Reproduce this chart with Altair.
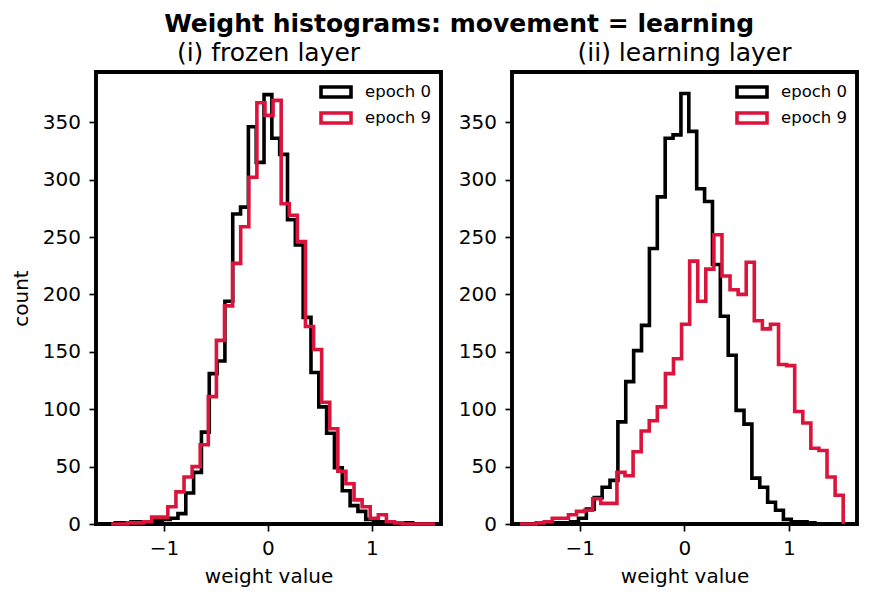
import altair as alt
import numpy as np
import pandas as pd

# ---------------- data ----------------
series_names = ["epoch 0", "epoch 9"]
series_colors = ["#000000", "#DC143C"]
panel_titles = ["(i) frozen layer", "(ii) learning layer"]
main_title = "Weight histograms: movement = learning"

# (i) frozen layer
frozen_e0_start, frozen_e0_width = -1.544, 0.0753
frozen_e0_counts = [0, 1, 1, 2, 2, 1, 3, 4, 5, 9,
                    27, 45, 80, 131, 142, 194, 270, 276, 346, 315,
                    374, 336, 322, 265, 243, 180, 132, 102, 79, 49,
                    29, 16, 11, 4, 2, 2, 1, 1, 1, 0]
frozen_e9_start, frozen_e9_width = -1.509, 0.0779
frozen_e9_counts = [0, 0, 1, 1, 2, 6, 6, 15, 28, 41,
                    50, 69, 111, 160, 190, 227, 259, 302, 367, 356,
                    369, 279, 269, 246, 172, 152, 106, 83, 46, 35,
                    21, 15, 5, 8, 2, 1, 0, 0, 0, 0]

# (ii) learning layer
learning_e0_start, learning_e0_width = -1.538, 0.0753
learning_e0_counts = [0, 0, 0, 1, 1, 1, 2, 5, 13, 23,
                      32, 38, 89, 124, 151, 173, 240, 285, 336, 339,
                      375, 342, 292, 281, 226, 181, 147, 99, 87, 40,
                      32, 19, 12, 4, 2, 2, 1, 0, 0, 0]
learning_e9_start, learning_e9_width = -1.570, 0.0772
learning_e9_counts = [0, 0, 1, 2, 5, 5, 8, 11, 12, 22,
                      18, 18, 45, 42, 63, 81, 90, 102, 131, 144,
                      174, 229, 194, 222, 252, 216, 204, 200, 228, 177,
                      170, 174, 139, 138, 98, 88, 66, 64, 41, 25]

x_ticks = [-1, 0, 1]
y_ticks = [0, 50, 100, 150, 200, 250, 300, 350]


def step_outline(name, start, width, counts):
    """Outline of a histogram (like histtype='step') from its bins."""
    edges = start + width * np.arange(len(counts) + 1)
    xs = [edges[0]] + list(edges[:-1]) + [edges[-1], edges[-1]]
    ys = [0] + list(counts) + [counts[-1], 0]
    return pd.DataFrame({"series": name, "x": xs, "count": ys,
                         "order": np.arange(len(xs))})


frozen_df = pd.concat([
    step_outline(series_names[0], frozen_e0_start, frozen_e0_width, frozen_e0_counts),
    step_outline(series_names[1], frozen_e9_start, frozen_e9_width, frozen_e9_counts),
])
learning_df = pd.concat([
    step_outline(series_names[0], learning_e0_start, learning_e0_width, learning_e0_counts),
    step_outline(series_names[1], learning_e9_start, learning_e9_width, learning_e9_counts),
])

FONT = "DejaVu Sans"
PLOT_W, PLOT_H = 345, 452
Y_MAX = 393.75
LINE_W = 3.6


def panel(df, title, xdomain, ytitle):
    legend = alt.Legend(
        title=None, orient="none", legendX=228, legendY=8,
        symbolType="M-1.5,-0.5H1.5V0.5H-1.5Z", symbolSize=400,
        symbolStrokeWidth=LINE_W, symbolFillColor="white",
        labelFont=FONT, labelFontSize=16.5, labelColor="black",
        labelOffset=17, rowPadding=0, padding=0,
    )
    yaxis_kwargs = dict(values=y_ticks)
    yaxis_kwargs["title"] = ytitle if ytitle else None
    return (
        alt.Chart(df)
        .mark_line(interpolate="step-after", strokeWidth=LINE_W, strokeJoin="miter")
        .encode(
            x=alt.X("x:Q", title="weight value",
                    scale=alt.Scale(domain=xdomain, nice=False, zero=False),
                    axis=alt.Axis(values=x_ticks, format="d")),
            y=alt.Y("count:Q",
                    scale=alt.Scale(domain=[0, Y_MAX], nice=False),
                    axis=alt.Axis(**yaxis_kwargs)),
            color=alt.Color("series:N",
                            scale=alt.Scale(domain=series_names, range=series_colors),
                            legend=legend),
            order=alt.Order("order:Q"),
        )
        .properties(
            width=PLOT_W, height=PLOT_H,
            title=alt.TitleParams(title, font=FONT, fontSize=25, fontWeight="normal",
                                  anchor="middle", offset=6, color="black"),
        )
    )


left = panel(frozen_df, panel_titles[0], [-1.655, 1.665], "count")
right = panel(learning_df, panel_titles[1], [-1.646, 1.650], None)

chart = (
    alt.hconcat(left, right, spacing=11)
    .resolve_scale(x="independent", y="independent", color="independent")
    .resolve_legend(color="independent")
    .properties(
        title=alt.TitleParams(main_title, font=FONT, fontSize=25, fontWeight="bold",
                              anchor="middle", color="black", offset=2, dx=25),
        padding={"left": 9, "top": 12, "right": 5, "bottom": 5},
        background="white",
    )
    .configure_view(stroke="black", strokeWidth=3.9)
    .configure_axis(
        labelFont=FONT, labelFontSize=20, labelColor="black",
        titleFont=FONT, titleFontSize=20, titleFontWeight="normal", titleColor="black",
        tickColor="black", tickWidth=1.7, tickSize=7, labelPadding=8.5,
        domain=False, grid=False,
    )
    .configure_axisLeft(titlePadding=11)
    .configure_axisBottom(titlePadding=8, labelPadding=7)
)

chart.save("out.html", embed_options={"renderer": "svg", "actions": False})
